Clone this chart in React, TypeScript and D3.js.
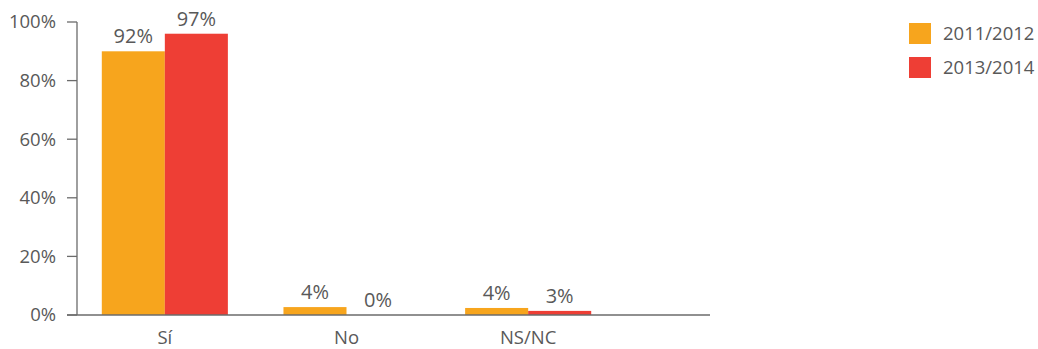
import React from "react";
import * as d3 from "d3";

const categories = ["Sí", "No", "NS/NC"];
const series = ["2011/2012", "2013/2014"];
const colors = ["#F7A51D", "#EE3E35"];
// bar heights as drawn (percent)
const values2011 = [90, 2.7, 2.4];
const values2013 = [96, 0, 1.4];
// printed labels
const labels2011 = ["92%", "4%", "4%"];
const labels2013 = ["97%", "0%", "3%"];
const yTicks = [0, 20, 40, 60, 80, 100];

const W = 1038;
const H = 349;
const axisX = 77;
const top = 22;
const bottom = 315;
const axisEnd = 710;

export default function App() {
  const y = d3.scaleLinear().domain([0, 100]).range([bottom, top]);
  const x0 = d3
    .scaleBand<string>()
    .domain(categories)
    .range([74, 619])
    .paddingInner(0.306)
    .paddingOuter(0.153);
  const x1 = d3.scaleBand<string>().domain(series).range([0, x0.bandwidth()]);
  const seriesVals = [values2011, values2013];
  const seriesLabels = [labels2011, labels2013];
  const font = "'Open Sans', sans-serif";
  const textColor = "#595959";
  const axisColor = "#6b6b6b";

  return (
    <svg
      width={W}
      height={H}
      style={{ position: "absolute", left: 0, top: 0 }}
      fontFamily={font}
    >
      {categories.map((c, ci) =>
        series.map((s, si) => {
          const v = seriesVals[si][ci];
          const bx = (x0(c) ?? 0) + (x1(s) ?? 0);
          return (
            <g key={c + s}>
              <rect
                x={bx}
                y={y(v)}
                width={x1.bandwidth()}
                height={y(0) - y(v)}
                fill={colors[si]}
              />
              <text
                x={bx + x1.bandwidth() / 2}
                y={y(v) - 8}
                textAnchor="middle"
                fontSize={20}
                fill={textColor}
              >
                {seriesLabels[si][ci]}
              </text>
            </g>
          );
        })
      )}
      <line x1={axisX} x2={axisX} y1={y(100)} y2={y(0)} stroke={axisColor} strokeWidth={1.3} />
      <line x1={axisX - 10} x2={axisEnd} y1={y(0)} y2={y(0)} stroke={axisColor} strokeWidth={1.3} />
      {yTicks.map((t) => (
        <g key={t}>
          <line x1={axisX - 10} x2={axisX} y1={y(t)} y2={y(t)} stroke={axisColor} strokeWidth={1.3} />
          <text
            x={axisX - 21}
            y={y(t)}
            dy="0.35em"
            textAnchor="end"
            fontSize={18.5}
            fill={textColor}
          >
            {t}%
          </text>
        </g>
      ))}
      {categories.map((c) => (
        <text
          key={c}
          x={(x0(c) ?? 0) + x0.bandwidth() / 2}
          y={344}
          textAnchor="middle"
          fontSize={18.5}
          fill={textColor}
        >
          {c}
        </text>
      ))}
      {series.map((s, si) => (
        <g key={s} transform={`translate(909, ${23 + si * 34})`}>
          <rect width={22} height={21} fill={colors[si]} />
          <text x={34} y={10.5} dy="0.35em" fontSize={18.5} fill={textColor}>
            {s}
          </text>
        </g>
      ))}
    </svg>
  );
}
